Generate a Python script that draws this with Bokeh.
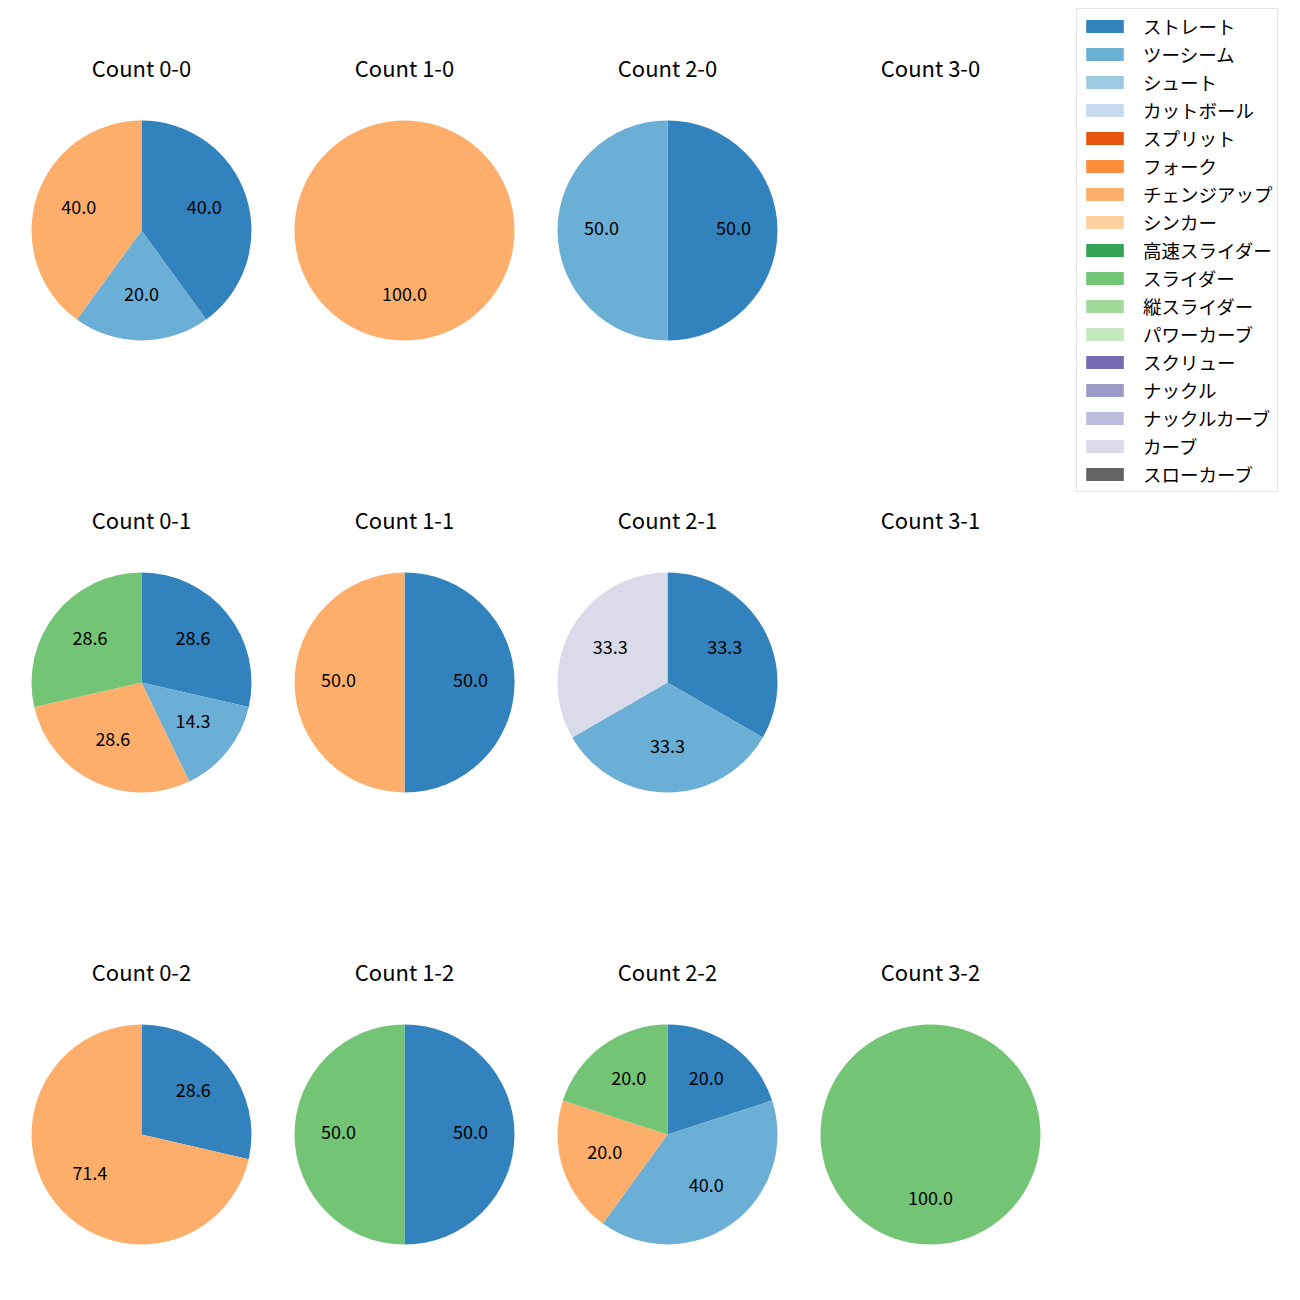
import math
from bokeh.plotting import figure
from bokeh.models import ColumnDataSource, Legend, LegendItem, Range1d
from bokeh.core.properties import value
from bokeh.embed import file_html
from bokeh.resources import INLINE

FONT = "Noto Sans CJK JP"

pitch_names = ["ストレート", "ツーシーム", "シュート", "カットボール", "スプリット", "フォーク",
               "チェンジアップ", "シンカー", "高速スライダー", "スライダー", "縦スライダー",
               "パワーカーブ", "スクリュー", "ナックル", "ナックルカーブ", "カーブ", "スローカーブ"]
pitch_colors = ["#3182bd", "#6baed6", "#9ecae1", "#c6dbef", "#e6550d", "#fd8d3c",
                "#fdae6b", "#fdd0a2", "#31a354", "#74c476", "#a1d99b",
                "#c7e9c0", "#756bb1", "#9e9ac8", "#bcbddc", "#dadaeb", "#636363"]

# counts in order: balls-strikes
count_labels = ["0-0", "1-0", "2-0", "3-0",
                "0-1", "1-1", "2-1", "3-1",
                "0-2", "1-2", "2-2", "3-2"]

pct_straight = [40.0, 0, 50.0, 0, 28.6, 50.0, 33.3, 0, 28.6, 50.0, 20.0, 0]
pct_twoseam = [20.0, 0, 50.0, 0, 14.3, 0, 33.3, 0, 0, 0, 40.0, 0]
pct_changeup = [40.0, 100.0, 0, 0, 28.6, 50.0, 0, 0, 71.4, 0, 20.0, 0]
pct_slider = [0, 0, 0, 0, 28.6, 0, 0, 0, 0, 50.0, 20.0, 100.0]
pct_curve = [0, 0, 0, 0, 0, 0, 33.3, 0, 0, 0, 0, 0]

series = {name: [0] * len(count_labels) for name in pitch_names}
series["ストレート"] = pct_straight
series["ツーシーム"] = pct_twoseam
series["チェンジアップ"] = pct_changeup
series["スライダー"] = pct_slider
series["カーブ"] = pct_curve

# layout (pixel positions of the subplot grid)
W = H = 1300
col_x = [141, 404, 667, 930]
row_y = [230, 682, 1134]
R = 110
TXT_DY = 3  # small upward nudge for text vertical centering

p = figure(width=W, height=H, x_range=Range1d(0, W), y_range=Range1d(0, H),
           output_backend="svg", toolbar_location=None, min_border=0,
           x_axis_location=None, y_axis_location=None)
p.grid.visible = False
p.outline_line_color = None
p.background_fill_color = "white"

wedge_data = {name: dict(x=[], y=[], start=[], end=[]) for name in pitch_names}
lab = dict(x=[], y=[], text=[])
titles = dict(x=[], y=[], text=[])

for k, cnt in enumerate(count_labels):
    r, c = divmod(k, 4)
    cx = col_x[c]
    cy = H - row_y[r]
    titles["x"].append(cx)
    titles["y"].append(cy + 161 + TXT_DY)
    titles["text"].append(f"Count {cnt}")
    vals = [series[n][k] for n in pitch_names]
    tot = sum(vals)
    if tot <= 0:
        continue
    cum = 0.0
    for n, v in zip(pitch_names, vals):
        if v <= 0:
            continue
        f0 = cum / tot
        f1 = (cum + v) / tot
        cum += v
        d = wedge_data[n]
        d["x"].append(cx)
        d["y"].append(cy)
        span = min((f1 - f0) * 360, 359.99)
        end = 90 - f0 * 360
        d["start"].append(end - span)
        d["end"].append(end)
        mid = math.radians(90 - (f0 + f1) / 2 * 360)
        lab["x"].append(cx + 0.6 * R * math.cos(mid))
        lab["y"].append(cy + 0.6 * R * math.sin(mid) + TXT_DY)
        lab["text"].append(f"{(f1 - f0) * 100:.1f}")

items = []
for n, col in zip(pitch_names, pitch_colors):
    d = wedge_data[n]
    if not d["x"]:
        d = dict(x=[col_x[0]], y=[H - row_y[0]], start=[0], end=[0])
        rad = 0
    else:
        rad = R
    src = ColumnDataSource(d)
    rend = p.wedge(x="x", y="y", radius=rad, start_angle="start", end_angle="end",
                   start_angle_units="deg", end_angle_units="deg", direction="anticlock",
                   fill_color=col, line_color=None, source=src)
    items.append(LegendItem(label=n, renderers=[rend]))

p.text(x="x", y="y", text="text", source=ColumnDataSource(lab),
       text_align="center", text_baseline="middle", text_font=value(FONT),
       text_font_size="18px", text_color="black")
p.text(x="x", y="y", text="text", source=ColumnDataSource(titles),
       text_align="center", text_baseline="middle", text_font=value(FONT),
       text_font_size="22px", text_color="black")

legend = Legend(items=items, location=(1076, 808),
                label_text_font=FONT, label_text_font_size="18.5px", label_text_color="black",
                glyph_width=47, glyph_height=16, label_height=20, spacing=2,
                padding=4, label_standoff=15,
                border_line_color="#cccccc", border_line_width=1,
                background_fill_color="white", background_fill_alpha=1.0)
p.add_layout(legend)

open("out.html", "w").write(file_html(p, INLINE))
